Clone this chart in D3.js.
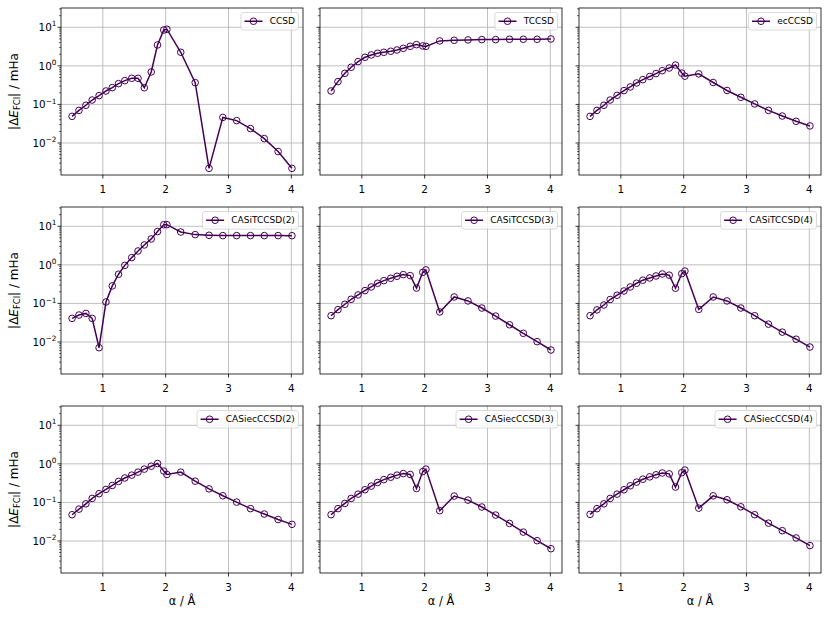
<!DOCTYPE html>
<html>
<head>
<meta charset="utf-8">
<script src="https://cdn.jsdelivr.net/npm/d3@7"></script>
<style>
  body { margin: 0; background: #fff; }
  text { font-family: "DejaVu Sans", sans-serif; fill: #000; }
</style>
</head>
<body>
<svg id="chart" width="830" height="617"></svg>
<script>
// bond length grid (Å)
var alpha = [0.51, 0.62, 0.73, 0.83, 0.94, 1.05, 1.15, 1.25, 1.35, 1.46, 1.56, 1.66, 1.77,
             1.87, 1.97, 2.02, 2.24, 2.47, 2.69, 2.91, 3.13, 3.35, 3.57, 3.79, 4.01];

// |dE_FCI| in mHa, one array per method
var ccsd = [0.049, 0.070, 0.095, 0.13, 0.169, 0.223, 0.273, 0.346, 0.414, 0.476, 0.476, 0.27, 0.695,
            3.48, 8.5, 8.9, 2.25, 0.367, 0.0022, 0.046, 0.038, 0.0236, 0.013, 0.006, 0.0022];
var tccsd = [0.223, 0.39, 0.64, 0.92, 1.29, 1.67, 1.92, 2.12, 2.25, 2.39, 2.58, 2.85, 3.21,
             3.55, 3.28, 3.2, 4.43, 4.6, 4.7, 4.79, 4.79, 4.89, 4.89, 4.89, 4.98];
var eccsd = [0.049, 0.070, 0.095, 0.13, 0.172, 0.228, 0.284, 0.36, 0.44, 0.53, 0.63, 0.75, 0.88,
             1.05, 0.65, 0.54, 0.62, 0.37, 0.23, 0.153, 0.103, 0.070, 0.050, 0.0365, 0.0277];
var casitccsd2 = [0.041, 0.050, 0.055, 0.041, 0.0071, 0.109, 0.284, 0.57, 0.97, 1.54, 2.29, 3.28, 4.7,
                  7.3, 11.0, 11.0, 7.1, 6.08, 5.85, 5.73, 5.73, 5.73, 5.73, 5.73, 5.7];
var casitccsd3 = [0.048, 0.069, 0.095, 0.128, 0.166, 0.215, 0.267, 0.333, 0.39, 0.449, 0.506, 0.558, 0.526,
                  0.25, 0.64, 0.74, 0.060, 0.147, 0.116, 0.076, 0.047, 0.028, 0.0168, 0.0102, 0.0062];
var casitccsd4 = [0.048, 0.068, 0.091, 0.126, 0.163, 0.21, 0.267, 0.333, 0.40, 0.457, 0.515, 0.58, 0.54,
                  0.247, 0.59, 0.69, 0.070, 0.147, 0.116, 0.076, 0.048, 0.029, 0.018, 0.0118, 0.0074];
var casieccsd2 = [0.048, 0.067, 0.092, 0.127, 0.168, 0.217, 0.275, 0.35, 0.43, 0.51, 0.61, 0.73, 0.87,
                  1.02, 0.65, 0.53, 0.61, 0.356, 0.225, 0.149, 0.102, 0.069, 0.050, 0.036, 0.027];
var casieccsd3 = [0.048, 0.069, 0.094, 0.127, 0.164, 0.213, 0.265, 0.329, 0.39, 0.45, 0.51, 0.56, 0.53,
                  0.23, 0.63, 0.73, 0.061, 0.146, 0.115, 0.076, 0.047, 0.0286, 0.017, 0.0102, 0.0063];
var casieccsd4 = [0.049, 0.069, 0.092, 0.127, 0.164, 0.213, 0.27, 0.336, 0.40, 0.46, 0.52, 0.58, 0.55,
                  0.25, 0.59, 0.69, 0.071, 0.148, 0.117, 0.077, 0.048, 0.029, 0.0185, 0.012, 0.0076];

var methods = ["CCSD", "TCCSD", "ecCCSD",
               "CASiTCCSD(2)", "CASiTCCSD(3)", "CASiTCCSD(4)",
               "CASiecCCSD(2)", "CASiecCCSD(3)", "CASiecCCSD(4)"];
var values = [ccsd, tccsd, eccsd, casitccsd2, casitccsd3, casitccsd4, casieccsd2, casieccsd3, casieccsd4];

var xTicks = [1, 2, 3, 4];
var yTicks = [1e-2, 1e-1, 1, 10];
var yExp = ["\u22122", "\u22121", "0", "1"];

var lineColor = "#440154",
    gridColor = "#b0b0b0";

var svg = d3.select("#chart");
var colLeft = [61, 320, 579],
    rowTop = [8, 207, 406],
    pw = 242, ph = 167;

var x = d3.scaleLinear().domain([0.334, 4.186]).range([0, pw]);
var y = d3.scaleLog().domain([Math.pow(10, -2.83), Math.pow(10, 1.5)]).range([ph, 0]);

// minor ticks 2..9 per decade inside the domain
var minor = [];
for (var e = -3; e <= 1; e++) {
  for (var m = 2; m <= 9; m++) {
    var v = m * Math.pow(10, e);
    if (v >= y.domain()[0] && v <= y.domain()[1]) minor.push(v);
  }
}

var line = d3.line()
  .x(function(d) { return x(d[0]); })
  .y(function(d) { return y(d[1]); });

methods.forEach(function(name, i) {
  var col = i % 3, row = Math.floor(i / 3);
  var g = svg.append("g").attr("transform", "translate(" + colLeft[col] + "," + rowTop[row] + ")");

  // grid
  g.selectAll(".gx").data(xTicks).enter().append("line")
    .attr("x1", function(d) { return x(d); }).attr("x2", function(d) { return x(d); })
    .attr("y1", 0).attr("y2", ph)
    .attr("stroke", gridColor).attr("stroke-width", 0.8);
  g.selectAll(".gy").data(yTicks).enter().append("line")
    .attr("y1", function(d) { return y(d); }).attr("y2", function(d) { return y(d); })
    .attr("x1", 0).attr("x2", pw)
    .attr("stroke", gridColor).attr("stroke-width", 0.8);

  // data
  var pts = alpha.map(function(a, k) { return [a, values[i][k]]; });
  g.append("path").datum(pts)
    .attr("d", line)
    .attr("fill", "none")
    .attr("stroke", lineColor)
    .attr("stroke-width", 1.5);
  g.selectAll(".pt").data(pts).enter().append("circle")
    .attr("cx", function(d) { return x(d[0]); })
    .attr("cy", function(d) { return y(d[1]); })
    .attr("r", 3.3)
    .attr("fill", "none")
    .attr("stroke", lineColor)
    .attr("stroke-width", 1);

  // frame
  g.append("rect").attr("width", pw).attr("height", ph)
    .attr("fill", "none").attr("stroke", "#000").attr("stroke-width", 0.8);

  // x ticks
  g.selectAll(".tx").data(xTicks).enter().append("line")
    .attr("x1", function(d) { return x(d); }).attr("x2", function(d) { return x(d); })
    .attr("y1", ph).attr("y2", ph + 3.5)
    .attr("stroke", "#000").attr("stroke-width", 0.8);
  g.selectAll(".lx").data(xTicks).enter().append("text")
    .attr("x", function(d) { return x(d); })
    .attr("y", ph + 18)
    .attr("text-anchor", "middle")
    .attr("font-size", 10.4)
    .text(function(d) { return d; });

  // y ticks
  g.selectAll(".ty").data(yTicks).enter().append("line")
    .attr("y1", function(d) { return y(d); }).attr("y2", function(d) { return y(d); })
    .attr("x1", 0).attr("x2", -3.5)
    .attr("stroke", "#000").attr("stroke-width", 0.8);
  g.selectAll(".tm").data(minor).enter().append("line")
    .attr("y1", function(d) { return y(d); }).attr("y2", function(d) { return y(d); })
    .attr("x1", 0).attr("x2", -2)
    .attr("stroke", "#000").attr("stroke-width", 0.6);

  if (col === 0) {
    yTicks.forEach(function(t, k) {
      var tx = g.append("text")
        .attr("x", -4.5).attr("y", y(t) + 3.8)
        .attr("text-anchor", "end")
        .attr("font-size", 10.4);
      tx.append("tspan").text("10");
      tx.append("tspan").attr("font-size", 7.3).attr("dy", -4.6).text(yExp[k]);
    });
    var yl = g.append("text")
      .attr("transform", "translate(" + (-43) + "," + (ph / 2) + ") rotate(-90)")
      .attr("text-anchor", "middle")
      .attr("font-size", 12);
    yl.append("tspan").text("|\u0394");
    yl.append("tspan").attr("font-style", "italic").text("E");
    yl.append("tspan").attr("font-size", 8.4).attr("dy", 2.4).text("FCI");
    yl.append("tspan").attr("dy", -2.4).text("| / mHa");
  }

  if (row === 2) {
    g.append("text")
      .attr("x", pw / 2).attr("y", ph + 32)
      .attr("text-anchor", "middle")
      .attr("font-size", 11.4)
      .text("\u03b1 / \u00c5");
  }

  // legend
  var fs = 9;
  var lg = g.append("g");
  var lt = lg.append("text").attr("font-size", fs).text(name);
  var tw = lt.node().getComputedTextLength();
  var bw = (0.4 + 2 + 0.8 + 0.4) * fs + tw, bh = 17.5;
  var bx = pw - 0.5 * fs - bw, by = 0.5 * fs;
  lg.insert("rect", "text")
    .attr("x", bx).attr("y", by).attr("width", bw).attr("height", bh)
    .attr("rx", 2.5)
    .attr("fill", "#fff").attr("fill-opacity", 0.8)
    .attr("stroke", "#d0d0d0").attr("stroke-width", 0.8);
  lg.append("line")
    .attr("x1", bx + 0.4 * fs).attr("x2", bx + 2.4 * fs)
    .attr("y1", by + bh / 2).attr("y2", by + bh / 2)
    .attr("stroke", lineColor).attr("stroke-width", 1.5);
  lg.append("circle")
    .attr("cx", bx + 1.4 * fs).attr("cy", by + bh / 2).attr("r", 3.3)
    .attr("fill", "none").attr("stroke", lineColor).attr("stroke-width", 1);
  lt.attr("x", bx + 3.2 * fs).attr("y", by + bh / 2 + 3.2);
});
</script>
</body>
</html>
